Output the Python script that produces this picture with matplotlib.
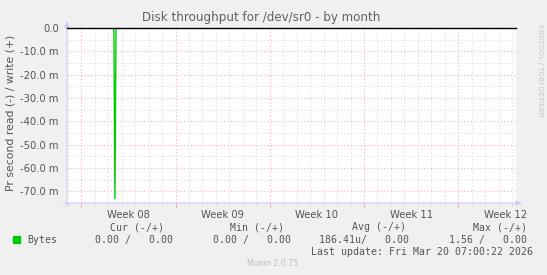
import matplotlib
matplotlib.use("Agg")
import matplotlib.pyplot as plt
from matplotlib.ticker import FixedLocator

# time axis in days, 0 = Mon 2026-02-16 00:00 (start of Week 08)
x_start = -1.06
x_end = 32.29
week_starts = [0, 7, 14, 21, 28]
week_mid = [3.5, 10.5, 17.5, 24.5, 31.5]
week_labels = ["Week 08", "Week 09", "Week 10", "Week 11", "Week 12"]

# read (plotted negative) and write series, bytes/s
read_x = [x_start, 2.42, 2.50, 2.58, x_end]
read_y = [0.0, 0.0, -0.0732, 0.0, 0.0]
write_x = [x_start, x_end]
write_y = [0.0, 0.0]

y_major = [0, -0.01, -0.02, -0.03, -0.04, -0.05, -0.06, -0.07]
y_labels = ["0.0", "-10.0 m", "-20.0 m", "-30.0 m", "-40.0 m",
            "-50.0 m", "-60.0 m", "-70.0 m"]
y_minor = [-0.005, -0.015, -0.025, -0.035, -0.045, -0.055, -0.065, -0.075]

legend_head = ["Cur (-/+)", "Min (-/+)", "Avg (-/+)", "Max (-/+)"]
legend_vals = ["0.00 /   0.00", "0.00 /   0.00", "186.41u/   0.00", "1.56 /   0.00"]
last_update = "Last update: Fri Mar 20 07:00:22 2026"

W, H = 547, 275
bg = "#f0f0f0"
txt = "#555555"
red_grid = "#f2b4b4"
gray_grid = "#dcdcdc"
axis_col = "#ccccf6"
green = "#00cc00"

fig = plt.figure(figsize=(W / 100, H / 100), dpi=100, facecolor=bg)
L, R, T, B = 67, 516, 28, 203
ax = fig.add_axes([L / W, 1 - B / H, (R - L) / W, (B - T) / H])
ax.set_facecolor("white")
ax.set_xlim(x_start, x_end)
ax.set_ylim(-0.075, 0.0)
for s in ax.spines.values():
    s.set_visible(False)

# grid
day_lines = [d for d in range(-1, 33) if d not in week_starts]
for d in day_lines:
    ax.axvline(d, color=gray_grid, lw=0.8, ls=(0, (1, 2)), zorder=1)
for d in week_starts:
    ax.axvline(d, color=red_grid, lw=0.8, ls=(0, (1, 2)), zorder=1)
for y in y_minor:
    ax.axhline(y, color=gray_grid, lw=0.8, ls=(0, (1, 2)), zorder=1)
for y in y_major[1:]:
    ax.axhline(y, color=red_grid, lw=0.8, ls=(0, (1, 2)), zorder=1)

# data
ax.plot(read_x, read_y, color=green, lw=1.0, zorder=3)
ax.plot(write_x, write_y, color="black", lw=1.0, zorder=4, clip_on=False)

# ticks
ax.xaxis.set_major_locator(FixedLocator(week_mid))
ax.set_xticklabels(week_labels)
ax.tick_params(axis="x", length=0, pad=5, labelsize=7.2, labelcolor=txt)
ax.set_yticks(y_major)
ax.set_yticklabels(y_labels)
ax.tick_params(axis="y", length=0, pad=6, labelsize=7.2, labelcolor=txt)

# small outside tick marks
for d in day_lines:
    ax.plot([d, d], [0, -0.012], transform=ax.get_xaxis_transform(),
            color=gray_grid, lw=0.8, clip_on=False)
for d in week_starts:
    ax.plot([d, d], [0, -0.02], transform=ax.get_xaxis_transform(),
            color=red_grid, lw=0.8, clip_on=False)

# axis lines with arrows
ax.annotate("", xy=(0, 1.04), xytext=(0, -0.015), xycoords="axes fraction",
            arrowprops=dict(arrowstyle="-|>,head_length=0.35,head_width=0.14",
                            color=axis_col, lw=0.8, shrinkA=0, shrinkB=0))
ax.annotate("", xy=(1.014, 0), xytext=(-0.008, 0), xycoords="axes fraction",
            arrowprops=dict(arrowstyle="-|>,head_length=0.35,head_width=0.14",
                            color=axis_col, lw=0.8, shrinkA=0, shrinkB=0))

# titles and labels
fig.text(261 / W, 1 - 18 / H, "Disk throughput for /dev/sr0 - by month",
         ha="center", va="center", fontsize=8.6, color="#606060")
fig.text(11 / W, 1 - 113 / H, "Pr second read (-) / write (+)", rotation=90,
         ha="center", va="center", fontsize=7.8, color=txt)
fig.text(540 / W, 1 - 70 / H, "RRDTOOL / TOBI OETIKER", rotation=270,
         ha="center", va="center", fontsize=5.2, color="#c8c8c8")

# legend
mono = "DejaVu Sans Mono"
fig.patches.append(plt.Rectangle((13 / W, 1 - 243 / H), 7 / W, 7 / H,
                                 transform=fig.transFigure, color=green))
fig.text(27 / W, 1 - 240 / H, "Bytes", ha="left", va="center",
         fontsize=7.1, family=mono, color=txt)
head_right = [164, 284, 406, 527]
val_right = [173, 291, 409, 527]
for h, xr in zip(legend_head, head_right):
    fig.text(xr / W, 1 - 227 / H, h, ha="right", va="center",
             fontsize=7.1, family=mono, color=txt)
for v, xr in zip(legend_vals, val_right):
    fig.text(xr / W, 1 - 240 / H, v, ha="right", va="center",
             fontsize=7.1, family=mono, color=txt)
fig.text(533 / W, 1 - 252 / H, last_update, ha="right", va="center",
         fontsize=7.1, family=mono, color=txt)
fig.text(272 / W, 1 - 264 / H, "Munin 2.0.75", ha="center", va="center",
         fontsize=5.6, color="#c0c0c0")

fig.savefig("out.png", dpi=100, facecolor=bg)
